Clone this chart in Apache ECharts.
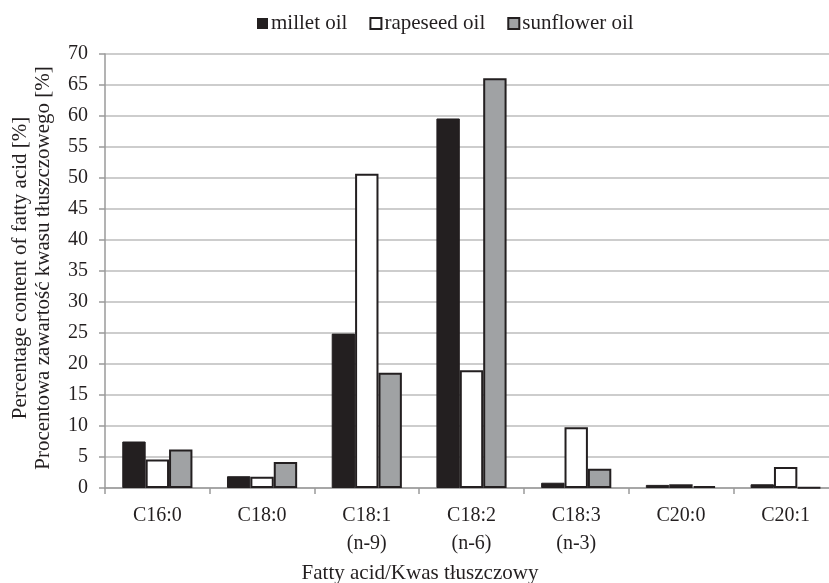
<!DOCTYPE html>
<html>
<head>
<meta charset="utf-8">
<script src="https://cdn.jsdelivr.net/npm/echarts@6/dist/echarts.min.js"></script>
<style>html,body{margin:0;padding:0;background:#fff}#c{width:829px;height:583px}</style>
</head>
<body>
<div id="c"></div>
<script>
const categories = ['C16:0', 'C18:0', 'C18:1\n(n-9)', 'C18:2\n(n-6)', 'C18:3\n(n-3)', 'C20:0', 'C20:1'];
const seriesNames = ['millet oil', 'rapeseed oil', 'sunflower oil'];
const millet = [7.5, 1.9, 24.9, 59.6, 0.85, 0.5, 0.6];
const rapeseed = [4.6, 1.8, 50.7, 19.0, 9.8, 0.6, 3.4];
const sunflower = [6.2, 4.2, 18.6, 66.1, 3.1, 0.3, 0.1];

const FONT = '"Liberation Serif", "Times New Roman", serif';
const chart = echarts.init(document.getElementById('c'), null, {renderer: 'canvas'});
const styles = [
  {color: '#231f20', borderColor: '#231f20', borderWidth: 1},
  {color: '#ffffff', borderColor: '#231f20', borderWidth: 2},
  {color: '#a0a2a4', borderColor: '#231f20', borderWidth: 2}
];
const dataSets = [millet, rapeseed, sunflower];
chart.setOption({
  animation: false,
  backgroundColor: '#fff',
  textStyle: {fontFamily: FONT},
  title: {
    text: 'Fatty acid/Kwas tłuszczowy',
    left: 420, top: 563, textAlign: 'center', padding: 0,
    textStyle: {fontFamily: FONT, fontSize: 21, fontWeight: 'normal', color: '#231f20'}
  },
  legend: {
    left: 252, top: 8,
    icon: 'rect', itemWidth: 11, itemHeight: 11, itemGap: 22,
    textStyle: {fontFamily: FONT, fontSize: 21, color: '#231f20', padding: [0, 0, 0, -2]},
    data: seriesNames.map((n, i) => ({name: n, itemStyle: {color: styles[i].color, borderColor: '#231f20', borderWidth: i === 0 ? 0 : 2}}))
  },
  grid: {left: 105, right: -9, top: 54, bottom: 95, containLabel: false, outerBoundsMode: 'none'},
  xAxis: {
    type: 'category',
    data: categories,
    axisLine: {lineStyle: {color: '#9a9a9a', width: 1.5}},
    axisTick: {show: true, alignWithLabel: false, length: 6, lineStyle: {color: '#9a9a9a', width: 1.5}},
    axisLabel: {fontFamily: FONT, fontSize: 20, color: '#231f20', margin: 14, lineHeight: 28, interval: 0}
  },
  yAxis: {
    type: 'value', min: 0, max: 70, interval: 5,
    name: 'Percentage content of fatty acid [%]\nProcentowa zawartość kwasu tłuszczowego [%]',
    nameLocation: 'middle', nameGap: 50,
    nameTextStyle: {fontFamily: FONT, fontSize: 21, color: '#231f20', lineHeight: 23, padding: [0, 0, 0, 6]},
    axisLine: {show: true, lineStyle: {color: '#9a9a9a', width: 1.5}},
    axisTick: {show: true, length: 6, lineStyle: {color: '#9a9a9a', width: 1.5}},
    axisLabel: {fontFamily: FONT, fontSize: 20, color: '#231f20', margin: 17},
    splitLine: {lineStyle: {color: '#bdbdbd', width: 1.5}}
  },
  series: seriesNames.map((n, i) => ({
    name: n, type: 'bar', data: dataSets[i],
    barGap: '0%', barCategoryGap: '33%',
    itemStyle: styles[i]
  }))
});
</script>
</body>
</html>
